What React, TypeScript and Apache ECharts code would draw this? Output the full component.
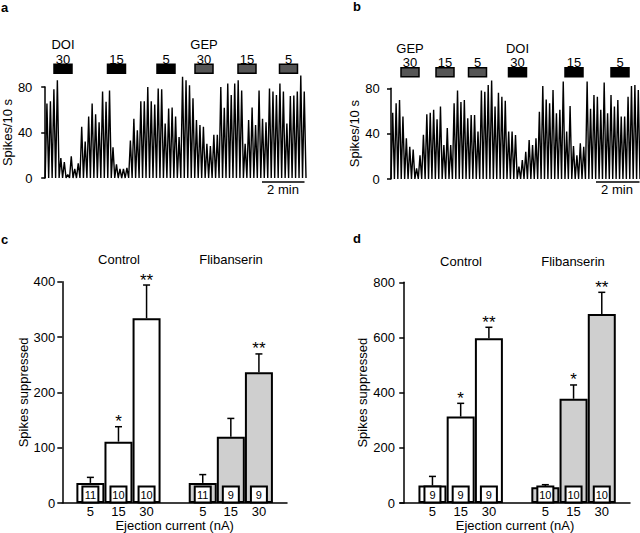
import React, { useEffect, useRef } from 'react';
import * as echarts from 'echarts';

const FONT = '"Liberation Sans", Arial, Helvetica, sans-serif';

// Ratemeter peaks (spikes per 10-s bin)
const traceA = [
  65.5, 67.5, 78, 86, 17.5, 14, 3, 19, 8, 13,
  45, 32, 54, 65.5, 56, 49, 76, 67, 77, 27,
  12, 8, 8, 9, 33,
  52, 42, 67.5, 67.5, 80, 67.5, 64.6, 78.6, 78, 48,
  61, 62, 54, 36, 89, 86, 81.6, 70, 51, 46.5,
  45, 30, 28, 38, 38, 80,
  61.7,
  83, 73, 83, 86, 77, 30, 51, 62, 46.5, 77,
  52, 49, 78.6, 76, 73, 83, 76, 48, 72, 72.5,
  76, 90, 76,
];
const traceB = [
  58.5, 66.8, 69.7, 55, 36, 28.5, 26, 9.4, 21, 39,
  57, 58.5, 61, 52.6, 64, 30, 45, 30, 66.8, 78,
  68, 69.7, 53.5, 56.5, 56.5, 41.8, 78, 77, 83, 86.8,
  64, 76, 72.6, 69, 41.8, 41.8, 38.8, 11, 16.8, 24,
  34.4, 30, 36, 59.4, 82, 70, 66.8, 78.5, 58, 61,
  86, 41.8, 64.4, 29, 21, 31.5, 28.5, 86, 62, 74,
  72.6, 61, 85, 58, 74, 64, 69.7, 55, 55, 72.6,
  82, 83, 78.5,
];

const traceTicks = [0, 40, 80];
const stimDosesA = ['30', '15', '5', '30', '15', '5'];
const stimDrugsA = ['DOI', 'DOI', 'DOI', 'GEP', 'GEP', 'GEP'];
const stimDosesB = ['30', '15', '5', '30', '15', '5'];
const stimDrugsB = ['GEP', 'GEP', 'GEP', 'DOI', 'DOI', 'DOI'];

const currents = ['5', '15', '30'];
const groupNames = ['Control', 'Flibanserin'];

// panel c
const cCtrlMean = [36.5, 111, 334];
const cCtrlSem = [10, 27, 60];
const cCtrlN = [11, 10, 10];
const cCtrlStars = ['', '*', '**'];
const cFlibMean = [36.5, 120, 236.5];
const cFlibSem = [15, 33, 33];
const cFlibN = [11, 9, 9];
const cFlibStars = ['', '', '**'];

// panel d
const dCtrlMean = [63.7, 313.5, 597];
const dCtrlSem = [33, 48, 40];
const dCtrlN = [9, 9, 9];
const dCtrlStars = ['', '*', '**'];
const dFlibMean = [57.7, 378, 684.7];
const dFlibSem = [9, 50, 79];
const dFlibN = [10, 10, 10];
const dFlibStars = ['', '*', '**'];

// layout (pixels)
const stimXA = [63, 116.5, 166, 204, 247, 288.5];
const stimXB = [410, 445, 477.5, 517.5, 574, 620];

function zigzag(peaks: number[]) {
  const pts: number[][] = [];
  peaks.forEach((v, i) => {
    pts.push([i, 0]);
    pts.push([i + 0.5, v]);
  });
  pts.push([peaks.length, 0]);
  return pts;
}

function stimGraphics(xs: number[], doses: string[], drugs: string[], barTop: number, doseY: number, drugY: number) {
  const els: any[] = [];
  xs.forEach((x, i) => {
    const isDOI = drugs[i] === 'DOI';
    els.push({
      type: 'rect',
      shape: { x: x - 9, y: barTop, width: 18, height: 9 },
      style: { fill: isDOI ? '#000' : '#555', stroke: '#000', lineWidth: 1.5 },
    });
    els.push({
      type: 'text', x, y: doseY,
      style: { text: doses[i], align: 'center', verticalAlign: 'middle', fontSize: 13, fontFamily: FONT, fill: '#000' },
    });
    if (i === 0 || drugs[i - 1] !== drugs[i]) {
      els.push({
        type: 'text', x, y: drugY,
        style: { text: drugs[i], align: 'center', verticalAlign: 'middle', fontSize: 13, fontFamily: FONT, fill: '#000' },
      });
    }
  });
  return els;
}

function textEl(text: string, x: number, y: number, extra: any = {}) {
  return {
    type: 'text', x, y,
    style: { text, align: 'center', verticalAlign: 'middle', fontSize: 13, fontFamily: FONT, fill: '#000', ...extra },
  };
}

function barData(ctrl: number[], flib: number[]) {
  return [
    ...ctrl.map((m, i) => ({ value: [i + 1, m], itemStyle: { color: '#ffffff' } })),
    ...flib.map((m, i) => ({ value: [i + 5, m], itemStyle: { color: '#cfcfcf' } })),
  ];
}

function errSeries(axisIdx: number, ctrlM: number[], ctrlS: number[], ctrlN: number[], ctrlSt: string[], flibM: number[], flibS: number[], flibN: number[], flibSt: string[]) {
  const means = [...ctrlM, ...flibM];
  const sems = [...ctrlS, ...flibS];
  const ns = [...ctrlN, ...flibN];
  const stars = [...ctrlSt, ...flibSt];
  const data = means.map((m, i) => [i < 3 ? i + 1 : i + 2, m, sems[i]]);
  return {
    type: 'custom',
    xAxisIndex: axisIdx,
    yAxisIndex: axisIdx,
    data,
    z: 5,
    renderItem: (params: any, api: any) => {
      const i = params.dataIndex;
      const x = api.value(0);
      const m = api.value(1);
      const s = api.value(2);
      const pTop = api.coord([x, m]);
      const pErr = api.coord([x, m + s]);
      const p0 = api.coord([x, 0]);
      const children: any[] = [
        { type: 'line', shape: { x1: pTop[0], y1: pTop[1], x2: pErr[0], y2: pErr[1] }, style: { stroke: '#000', lineWidth: 1.5 } },
        { type: 'line', shape: { x1: pErr[0] - 3.5, y1: pErr[1], x2: pErr[0] + 3.5, y2: pErr[1] }, style: { stroke: '#000', lineWidth: 1.5 } },
        { type: 'rect', shape: { x: p0[0] - 8, y: p0[1] - 16.5, width: 16, height: 16 }, style: { fill: '#fff', stroke: '#000', lineWidth: 2 } },
        { type: 'text', x: p0[0], y: p0[1] - 8.2, style: { text: String(ns[i]), align: 'center', verticalAlign: 'middle', fontSize: 11, fontFamily: FONT, fill: '#000' } },
      ];
      if (stars[i]) {
        children.push({ type: 'text', x: pErr[0], y: pErr[1] - 5, style: { text: stars[i], align: 'center', verticalAlign: 'middle', fontSize: 17, fontFamily: FONT, fill: '#000' } });
      }
      return { type: 'group', children };
    },
  };
}

export default function App() {
  const ref = useRef<HTMLDivElement>(null);
  useEffect(() => {
    document.body.style.margin = '0';
    const chart = echarts.init(ref.current!, undefined, { renderer: 'svg' });
    const axisLine = { show: true, lineStyle: { color: '#000', width: 1.5 } };
    const traceY = (gi: number) => ({
      type: 'value', gridIndex: gi, min: traceTicks[0], max: traceTicks[2], interval: 40,
      axisLine, axisTick: { show: true, length: 4, lineStyle: { color: '#000', width: 1.5 } },
      axisLabel: { color: '#000', fontSize: 13, fontFamily: FONT, margin: 8 },
      splitLine: { show: false },
      name: 'Spikes/10 s', nameLocation: 'middle', nameGap: 23,
      nameTextStyle: { color: '#000', fontSize: 13, fontFamily: FONT },
    });
    const barY = (gi: number, max: number, interval: number, margin: number, gap: number) => ({
      type: 'value', gridIndex: gi, min: 0, max, interval,
      axisLine, axisTick: { show: true, length: 5, lineStyle: { color: '#000', width: 1.5 } },
      axisLabel: { color: '#000', fontSize: 13, fontFamily: FONT, margin },
      splitLine: { show: false },
      name: 'Spikes suppressed', nameLocation: 'middle', nameGap: gap,
      nameTextStyle: { color: '#000', fontSize: 13, fontFamily: FONT },
    });
    const barX = (gi: number, min: number) => ({
      type: 'value', gridIndex: gi, min, max: 8,
      axisLine, axisTick: { show: false },
      axisLabel: {
        color: '#000', fontSize: 13, fontFamily: FONT, margin: 2,
        customValues: [1, 2, 3, 5, 6, 7],
        formatter: (v: number) => currents[(Math.round(v) - 1) % 4] ?? '',
      },
      splitLine: { show: false },
      name: 'Ejection current (nA)', nameLocation: 'middle', nameGap: 14,
      nameTextStyle: { color: '#000', fontSize: 13, fontFamily: FONT },
    });

    const graphic: any[] = [
      textEl('a', 1, 7, { fontWeight: 'bold', align: 'left' }),
      textEl('b', 353, 6, { fontWeight: 'bold', align: 'left' }),
      textEl('c', 1, 239, { fontWeight: 'bold', align: 'left' }),
      textEl('d', 353, 238, { fontWeight: 'bold', align: 'left' }),
      ...stimGraphics(stimXA, stimDosesA, stimDrugsA, 64.3, 59.3, 44.5),
      ...stimGraphics(stimXB, stimDosesB, stimDrugsB, 67.7, 62.3, 48.3),
      { type: 'line', shape: { x1: 262, y1: 182, x2: 304.5, y2: 182 }, style: { stroke: '#000', lineWidth: 1.5 } },
      textEl('2 min', 283, 189.5),
      { type: 'line', shape: { x1: 596, y1: 182, x2: 639.5, y2: 182 }, style: { stroke: '#000', lineWidth: 1.5 } },
      textEl('2 min', 617, 189.5),
      textEl(groupNames[0], 119, 259.5),
      textEl(groupNames[1], 231, 259.5),
      textEl(groupNames[0], 461, 261.5),
      textEl(groupNames[1], 573, 261.5),
    ];

    chart.setOption({
      animation: false,
      backgroundColor: '#fff',
      grid: [
        { left: 36, top: 87, width: 270, height: 91 },
        { left: 387.7, top: 88.3, width: 252.3, height: 90.7 },
        { left: 62.3, top: 281.7, width: 224.7, height: 222.6 },
        { left: 400, top: 282.3, width: 230, height: 222 },
      ],
      xAxis: [
        { type: 'value', gridIndex: 0, min: -1.39, max: traceA.length, show: false },
        { type: 'value', gridIndex: 1, min: -0.97, max: traceB.length, show: false },
        barX(2, 0),
        barX(3, -0.15),
      ],
      yAxis: [
        traceY(0),
        traceY(1),
        barY(2, 400, 100, 7, 32),
        barY(3, 800, 200, 5, 27),
      ],
      series: [
        {
          type: 'line', xAxisIndex: 0, yAxisIndex: 0, data: zigzag(traceA), symbol: 'none', clip: false,
          lineStyle: { color: '#000', width: 1.4 },
        },
        {
          type: 'line', xAxisIndex: 1, yAxisIndex: 1, data: zigzag(traceB), symbol: 'none', clip: false,
          lineStyle: { color: '#000', width: 1.4 },
        },
        {
          type: 'bar', xAxisIndex: 2, yAxisIndex: 2, barWidth: 28, data: barData(cCtrlMean, cFlibMean),
          itemStyle: { borderColor: '#000', borderWidth: 2 },
        },
        {
          type: 'bar', xAxisIndex: 3, yAxisIndex: 3, barWidth: 28, data: barData(dCtrlMean, dFlibMean),
          itemStyle: { borderColor: '#000', borderWidth: 2 },
        },
        errSeries(2, cCtrlMean, cCtrlSem, cCtrlN, cCtrlStars, cFlibMean, cFlibSem, cFlibN, cFlibStars),
        errSeries(3, dCtrlMean, dCtrlSem, dCtrlN, dCtrlStars, dFlibMean, dFlibSem, dFlibN, dFlibStars),
      ],
      graphic,
    });
    return () => chart.dispose();
  }, []);
  return <div ref={ref} style={{ width: 640, height: 533 }} />;
}
